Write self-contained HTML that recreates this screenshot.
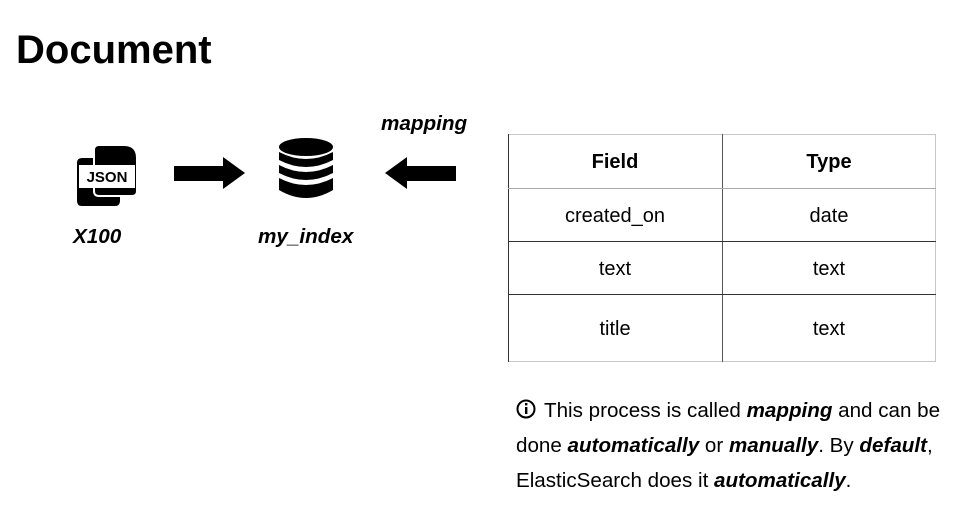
<!DOCTYPE html>
<html><head><meta charset="utf-8"><style>
body{margin:0;width:962px;height:513px;background:#fff;position:relative;overflow:hidden;font-family:"Liberation Sans",sans-serif;color:#000}
.a{position:absolute;white-space:nowrap}
.bi{font-weight:bold;font-style:italic}
</style></head><body>
<div class="a" style="left:16px;top:27px;font-size:40px;font-weight:bold;line-height:46px">Document</div>
<div class="a bi" style="left:381px;top:112px;font-size:20.7px;line-height:24px">mapping</div>
<div class="a bi" style="left:73px;top:225px;font-size:20.7px;line-height:24px">X100</div>
<div class="a bi" style="left:258px;top:225px;font-size:20.7px;line-height:24px">my_index</div>
<svg class="a" style="left:0;top:0" width="962" height="513">
  <path d="M82 158 H110 L120 168 V201 Q120 206 115 206 H82 Q77 206 77 201 V163 Q77 158 82 158Z" fill="#000"/>
  <path d="M99 145 H124 Q137 145 137 158 V191 Q137 196 132 196 H99 Q94 196 94 191 V150 Q94 145 99 145Z" fill="#000" stroke="#fff" stroke-width="2"/>
  <rect x="79" y="165" width="56" height="23" fill="#fff"/>
  <text x="107" y="182" font-family="Liberation Sans" font-weight="bold" font-size="15" text-anchor="middle">JSON</text>
  <polygon points="174,166 223,166 223,157 245,173 223,189 223,181 174,181" fill="#000"/>
  <polygon points="456,166 407,166 407,157 385,173 407,189 407,181 456,181" fill="#000"/>
  <g fill="#000">
    <ellipse cx="306" cy="147" rx="27" ry="9"/>
    <path d="M279 152 Q306 166 333 152 V160 Q306 174 279 160Z"/>
    <path d="M279 165 Q306 179 333 165 V173 Q306 187 279 173Z"/>
    <path d="M279 178 Q306 192 333 178 V190 Q306 206 279 190Z"/>
  </g>
  <rect x="508.5" y="134.5" width="427" height="227" fill="none" stroke="#c8c8c8"/>
  <line x1="508.5" y1="134" x2="508.5" y2="362" stroke="#333"/>
  <line x1="722.5" y1="134" x2="722.5" y2="362" stroke="#555"/>
  <line x1="508" y1="188.5" x2="936" y2="188.5" stroke="#aaa"/>
  <line x1="508" y1="241.5" x2="936" y2="241.5" stroke="#333"/>
  <line x1="508" y1="294.5" x2="936" y2="294.5" stroke="#333"/>
  <g font-family="Liberation Sans" font-size="20" text-anchor="middle">
    <text x="615" y="168" font-weight="bold">Field</text>
    <text x="829" y="168" font-weight="bold">Type</text>
    <text x="615" y="222">created_on</text>
    <text x="829" y="222">date</text>
    <text x="615" y="275">text</text>
    <text x="829" y="275">text</text>
    <text x="615" y="335">title</text>
    <text x="829" y="335">text</text>
  </g>
  <circle cx="526" cy="409" r="8.5" fill="none" stroke="#000" stroke-width="2"/>
  <rect x="525" y="407" width="2.4" height="7" fill="#000"/>
  <rect x="525" y="403" width="2.4" height="2.4" fill="#000"/>
</svg>
<div class="a" style="left:516px;top:393px;font-size:20.6px;line-height:35px;width:446px;white-space:normal">
<span style="padding-left:28px">This process is called <span class="bi">mapping</span> and can be</span><br>done <span class="bi">automatically</span> or <span class="bi">manually</span>. By <span class="bi">default</span>,<br>ElasticSearch does it <span class="bi">automatically</span>.
</div>
</body></html>
